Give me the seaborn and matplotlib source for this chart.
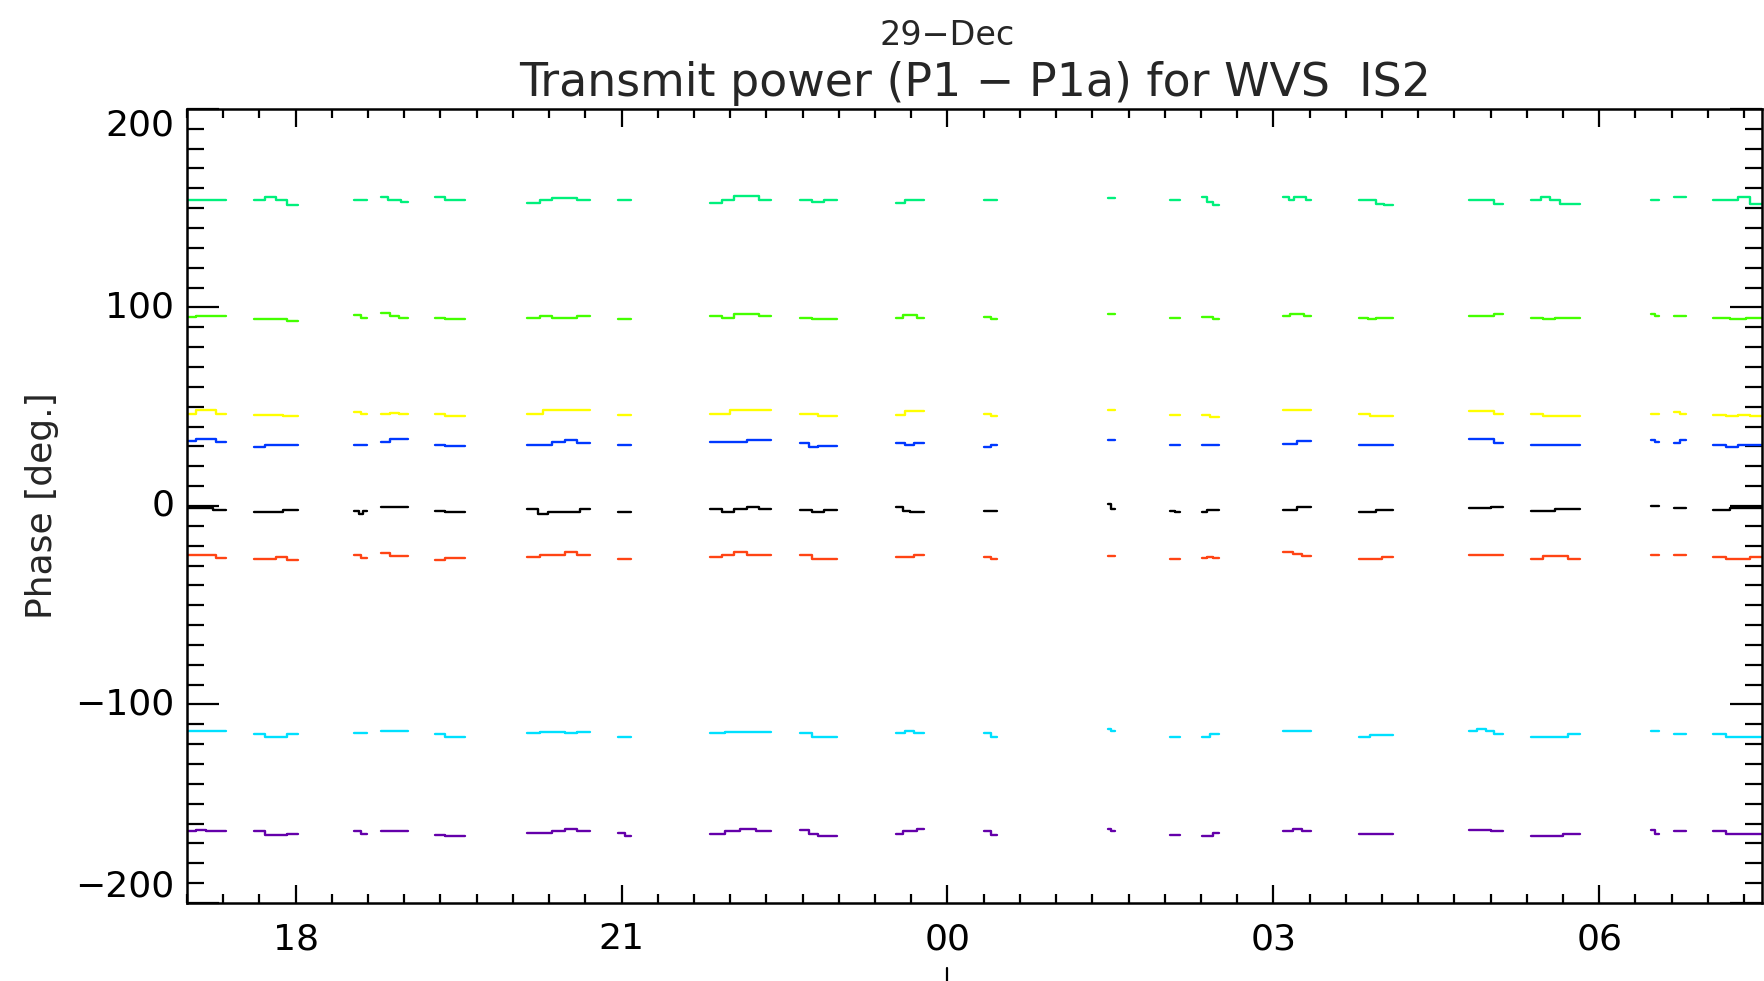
import numpy as np
import pandas as pd
import matplotlib
matplotlib.use("Agg")
import matplotlib.pyplot as plt
import matplotlib.transforms as mtransforms
from matplotlib.ticker import MultipleLocator, FixedLocator
import seaborn as sns

# hours since 28-Dec 00:00, start/end of each data pass
seg_start = [16.99, 17.62, 18.54, 18.79, 19.28, 20.13, 20.97, 21.81, 22.64, 23.53, 24.34,
             25.48, 26.05, 26.34, 27.09, 27.79, 28.80, 29.37, 30.48, 30.69, 31.05]
seg_end = [17.36, 18.02, 18.66, 19.03, 19.56, 20.71, 21.09, 22.38, 22.98, 23.78, 24.46,
           25.54, 26.14, 26.50, 27.35, 28.10, 29.11, 29.82, 30.55, 30.80, 31.50]

# phase levels inside each pass, one list per pass
green_top = [[154], [154, 155.5, 154, 151.5], [154], [155.5, 154, 154, 153], [155.5, 154, 154],
             [152.7, 154, 155, 155, 154], [154], [152.7, 154, 156, 156, 154], [154, 153, 154],
             [152.7, 154, 154], [154], [155], [154], [155.5, 153, 151.5], [155.5, 154, 155.5, 155.5, 154],
             [154, 154, 152, 151.5], [154, 154, 154, 152], [154, 155.5, 154, 152, 152], [154], [155.7],
             [154, 154, 155.5, 152]]
green = [[95, 95.5, 95.5, 95.5], [94, 94, 94, 93.2], [96, 94.5], [97.4, 95.5, 94.5], [94.9, 94, 94],
         [94.9, 95.7, 94.5, 94.5, 95.5], [94], [95.5, 94.9, 96.5, 96.5, 95.5], [94.5, 94, 94],
         [94.9, 96, 96, 94.9], [95.2, 94], [96.5], [94.9], [95.2, 95.2, 94], [95.5, 96.9, 96.9, 95.5],
         [94.9, 94, 94.9, 94.9], [95.5, 95.5, 95.5, 96.5], [94.9, 94, 94.9, 94.9], [96.5, 95.5], [95.5],
         [94.5, 94, 94.5]]
yellow = [[46.5, 48.2, 48.2, 46.5], [46, 46, 45.3], [47.4, 46.5], [46.5, 47, 46.5], [46.5, 45.3, 45.3],
          [46.5, 48.2, 48.2, 48.2], [45.7], [46.5, 48.2, 48.2], [46.5, 45.3], [46, 47.7, 47.7],
          [46.5, 45.5], [48.2], [46], [45.7, 45], [48.2], [46.5, 45.3, 45.3], [47.7, 47.7, 47.7, 46.5],
          [46.5, 45.3, 45.3, 45.3], [46.5], [47.5, 46.5], [46, 45.5, 46, 45.5]]
blue = [[32.5, 33.5, 33.5, 32.2], [29.7, 30.5, 30.5, 30.5], [30.9], [32.2, 33.5, 33.5], [30.5, 30.2, 30.2],
        [30.9, 30.9, 32.2, 33, 31.9], [30.5], [32.2, 32.2, 32.2, 33, 33], [31.9, 29.7, 30.2, 30.2],
        [31.9, 30.9, 31.9], [29.7, 30.5], [33.4], [30.5], [30.5], [31.4, 32.5], [30.5],
        [33.5, 33.5, 33.5, 31.9], [30.5], [33, 32], [31.9, 33], [30.5, 29.7, 30.5, 30.5]]
black = [[-1.2, -1.2, -1.8], [-2.8, -2.8, -1.8], [-2.3, -4, -2.3], [-0.3], [-2.3, -3.2, -3.2],
         [-1.5, -4, -2.8, -2.8, -2.8, -1.5], [-2.8], [-1.5, -2.8, -1.5, -0.3, -1.5], [-1.8, -3.2, -1.8],
         [-0.7, -2.3, -3.2, -3.2], [-2.3], [1, -1.5], [-2.3, -3], [-3.2, -1.8, -1.8], [-1.8, -0.3],
         [-3.2, -1.8], [-1.2, -1.2, -0.7], [-2.3, -2.3, -1.5, -1.5], [-0.2], [-1.2], [-1.8, -1.2, -1.2]]
red = [[-24.7, -24.7, -24.7, -26], [-26.7, -26.7, -25.8, -27], [-24.7, -26.2], [-23.7, -25, -25],
       [-27.2, -26.3, -26.3], [-25.8, -24.7, -24.7, -23.3, -24.7], [-26.7], [-25.8, -24.7, -23.3, -24.7, -24.7],
       [-24.7, -26.7, -26.7], [-25.8, -25.8, -24.7], [-25.8, -26.7], [-25], [-26.7], [-26.3, -25.5, -26.3],
       [-23.3, -24.2, -25], [-26.7, -26.7, -25.8], [-24.7], [-26.7, -25.3, -25.3, -26.7], [-24.7], [-24.7],
       [-25.8, -26.7, -26.7, -25.8]]
cyan = [[-113.4], [-115, -116.3, -116.3, -115], [-114.2], [-113.4], [-115, -116.3, -116.3],
        [-114.2, -113.7, -113.7, -114.2, -113.7], [-116.3], [-114.2, -113.7, -113.7, -113.7],
        [-114.2, -116.3, -116.3], [-114.6, -113.6, -114.6], [-114.6, -116.3], [-112.2, -113.4], [-116.3],
        [-116.3, -115], [-113.4], [-116.3, -115.6, -115.6], [-113.4, -112.6, -113.4, -115],
        [-116.3, -116.3, -116.3, -115], [-113.4], [-115], [-115, -116.3, -116.3, -116.3]]
purple = [[-163.8, -163, -163.8, -163.8], [-163.8, -165.8, -165.8, -165], [-163.8, -165], [-163.8],
          [-165.5, -166.3, -166.3], [-164.6, -164.6, -163.5, -162.5, -163.8], [-164.6, -166.3],
          [-165, -163.8, -162.6, -163.8], [-163, -165, -166.3, -166.3], [-165, -163.8, -163.8, -162.5],
          [-163.8, -165.8], [-162.5, -163.8], [-165.8], [-166.3, -166.3, -164.6], [-163.8, -162.6, -163.8],
          [-165.1], [-163, -163, -163.8], [-166.3, -166.3, -165], [-163, -165], [-163.8],
          [-163.8, -165, -165, -165]]

series_names = ["green_top", "green", "yellow", "blue", "black", "red", "cyan", "purple"]
series_vals = [green_top, green, yellow, blue, black, red, cyan, purple]
colors = ["#00f07c", "#44ff00", "#ffff00", "#0038ff", "#000000", "#ff4414", "#00e0ff", "#6400aa"]

rows = []
for name, segs in zip(series_names, series_vals):
    for k, levels in enumerate(segs):
        t0, t1 = seg_start[k], seg_end[k]
        n = len(levels)
        for j, v in enumerate(levels):
            rows.append((name, k, t0 + (t1 - t0) * j / n, v))
        rows.append((name, k, t1, levels[-1]))
df = pd.DataFrame(rows, columns=["series", "seg", "hour", "phase"])

sns.set_style("ticks")
plt.rcParams["font.family"] = ["DejaVu Sans"]

fig = plt.figure(figsize=(17.64, 9.81), dpi=100)
ax = fig.add_axes([0.106, 0.0795, 0.893, 0.8095])

sns.lineplot(data=df, x="hour", y="phase", hue="series", units="seg", estimator=None,
             palette=dict(zip(series_names, colors)), legend=False, drawstyle="steps-post",
             linewidth=1.7, ax=ax)

ax.set_xlim(17, 31.5)
ax.set_ylim(-200, 200)
ax.xaxis.set_major_locator(FixedLocator([18, 21, 24, 27, 30]))
ax.set_xticklabels(["18", "21", "00", "03", "06"])
ax.xaxis.set_minor_locator(MultipleLocator(1 / 3))
ax.yaxis.set_minor_locator(MultipleLocator(10))
ax.set_yticks([-200, -100, 0, 100, 200])
ax.set_yticklabels(["\u2212200", "\u2212100", "0", "100", "200"])

for lab, va in zip(ax.get_yticklabels(), ["bottom", "center", "center", "center", "top"]):
    lab.set_va(va)

ax.tick_params(axis="both", which="both", direction="in", top=True, right=True,
               width=1.6, colors="black", labelsize=26)
ax.tick_params(axis="y", which="major", length=23, pad=9)
ax.tick_params(axis="y", which="minor", length=12)
ax.tick_params(axis="x", which="major", length=13, pad=14)
ax.tick_params(axis="x", which="minor", length=6.5)
for sp in ax.spines.values():
    sp.set_linewidth(1.8)
    sp.set_color("black")

ax.set_xlabel("")
ax.set_ylabel("Phase [deg.]", fontsize=26, labelpad=12)
ax.set_title("Transmit power (P1 \u2212 P1a) for WVS  IS2", fontsize=33, pad=9)

trans = mtransforms.blended_transform_factory(ax.transData, ax.transAxes)
ax.text(24, 1.092, "29\u2212Dec", transform=trans, ha="center", va="center", fontsize=24)
ax.plot([24, 24], [-0.082, -0.1], transform=trans, color="black", lw=1.6, clip_on=False)

fig.savefig("out.png", dpi=100, facecolor="white")
